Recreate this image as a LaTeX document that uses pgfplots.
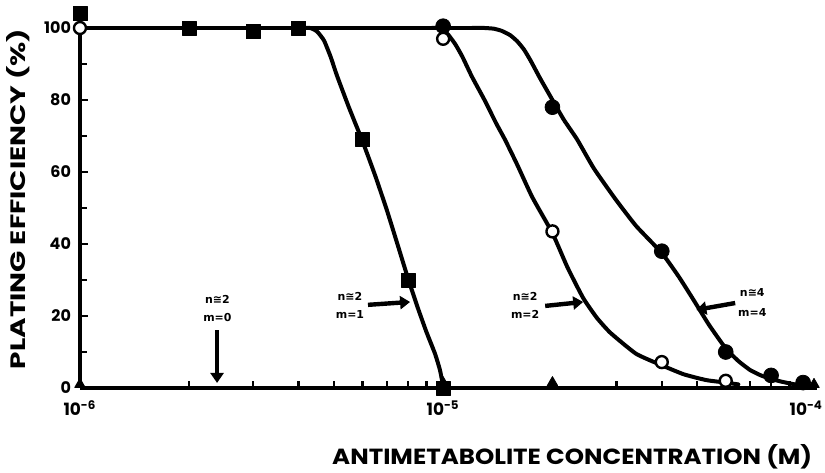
\documentclass[border=0pt]{standalone}
\usepackage{fontspec}
\setmainfont{Poppins}
\newfontfamily\annfont{DejaVu Sans}
\usepackage{pgfplots}
\pgfplotsset{compat=1.18}
\usetikzlibrary{arrows.meta}

\begin{document}
\begin{tikzpicture}
\useasboundingbox (-40bp,-42.5bp) rectangle (372.5bp,194bp);
\begin{axis}[
 at={(0,0)}, anchor=south west,
 scale only axis, width=368.5bp, height=180bp,
 xmode=log, xmin=1e-6, xmax=1.07e-4, ymin=0, ymax=100,
 axis lines*=left, axis line style={line width=2bp, -},
 clip=false,
 xtick={1e-6,1e-5,1e-4},
 xticklabels={10\textsuperscript{-6},10\textsuperscript{-5},10\textsuperscript{-4}},
 minor xtick={2e-6,3e-6,4e-6,5e-6,6e-6,7e-6,8e-6,9e-6,2e-5,3e-5,4e-5,5e-5,6e-5,7e-5,8e-5,9e-5},
 ytick={0,20,40,60,80,100}, yticklabels={0,20,40,60,80,100},
 minor ytick={10,30,50,70,90},
 tick align=inside,
 major tick length=4bp, minor tick length=3.5bp,
 every tick/.style={black, line width=1.2bp},
 xticklabel style={font=\fontsize{8.5}{10}\selectfont\bfseries, yshift=-3bp},
 yticklabel style={font=\fontsize{8}{9}\selectfont\bfseries, xshift=-1bp},
 every axis plot/.append style={line join=round, line cap=round},
]
% curves
\addplot[black, line width=2bp] coordinates {(1e-6,100) (1.3e-5,100)};
\addplot[black, line width=2bp, smooth, tension=0.3] coordinates {
 (1.2e-5,100) (1.3e-5,100) (1.38e-5,99.8) (1.45e-5,99.2) (1.53e-5,98) (1.6e-5,96.3)
 (1.67e-5,94) (1.74e-5,91) (1.85e-5,86) (2e-5,80) (2.15e-5,74.5) (2.34e-5,69)
 (2.6e-5,61) (2.98e-5,52.5) (3.4e-5,45) (4e-5,37.5) (4.45e-5,31) (4.89e-5,24.5)
 (5.4e-5,17.5) (6e-5,11) (6.5e-5,7.5) (7e-5,5) (7.5e-5,3.5) (8e-5,2.5) (8.6e-5,1.7)
 (9.3e-5,1) (1e-4,0.6) (1.05e-4,0.3)};
\addplot[black, line width=2bp, smooth, tension=0.3] coordinates {
 (3.9e-6,100) (4.3e-6,100) (4.5e-6,99) (4.7e-6,96.5) (4.9e-6,92) (5.1e-6,86.8)
 (5.5e-6,78) (6e-6,68.5) (6.5e-6,59) (7e-6,49.4) (7.5e-6,39.7) (8e-6,30.5)
 (8.5e-6,22.5) (9e-6,15.5) (9.5e-6,9.5) (9.8e-6,5) (1e-5,0.5)};
\addplot[black, line width=2bp, smooth, tension=0.3] coordinates {
 (9.3e-6,100) (9.7e-6,100) (1.0e-5,99.3) (1.03e-5,98.3) (1.08e-5,95.5) (1.13e-5,92)
 (1.2e-5,86.5) (1.3e-5,80) (1.4e-5,73.5) (1.48e-5,69) (1.6e-5,62) (1.76e-5,53)
 (2e-5,43) (2.2e-5,33.5) (2.43e-5,25) (2.65e-5,19.5) (2.89e-5,15.3) (3.4e-5,9.5)
 (4e-5,6.3) (4.6e-5,3.8) (5.3e-5,2.2) (6e-5,1.5) (6.5e-5,1)};
% markers
\addplot[only marks, mark=square*, mark size=3.5bp, black] coordinates {
 (1e-6,104) (2e-6,100) (3e-6,99) (4e-6,100) (6e-6,69) (8e-6,30) (1e-5,0)};
\addplot[only marks, mark=triangle*, mark size=3bp, black] coordinates {
 (1e-6,1) (1e-5,1.5) (2e-5,1.5) (1.05e-4,1)};
\addplot[only marks, mark=*, mark size=3.7bp, black] coordinates {
 (1e-5,100.5) (2e-5,78) (4e-5,38) (6e-5,10) (8e-5,3.5) (9.8e-5,1.5)};
\addplot[only marks, mark=*, mark size=3bp, black, fill=white, line width=1.2bp] coordinates {
 (1e-6,100) (1e-5,97) (2e-5,43.5) (4e-5,7.2) (6e-5,2)};
% annotations
\tikzset{ann/.style={font=\annfont\fontsize{5.5}{6}\selectfont\bfseries, inner sep=0pt},
 arr/.style={line width=2.2bp, -{Triangle[width=6.5bp,length=5bp]}}}
\node[ann] at (axis cs:2.39e-6,24.7) {n≅2};
\node[ann] at (axis cs:2.39e-6,19.7) {m=0};
\draw[arr] (axis cs:2.385e-6,16.1) -- (axis cs:2.385e-6,1.4);
\node[ann] at (axis cs:5.54e-6,25.3) {n≅2};
\node[ann] at (axis cs:5.54e-6,20.3) {m=1};
\draw[arr] (axis cs:6.21e-6,23.1) -- (axis cs:8.11e-6,23.9);
\node[ann] at (axis cs:1.682e-5,25.3) {n≅2};
\node[ann] at (axis cs:1.682e-5,20.3) {m=2};
\draw[arr] (axis cs:1.91e-5,22.8) -- (axis cs:2.43e-5,23.9);
\node[ann] at (axis cs:7.1e-5,26.4) {n≅4};
\node[ann] at (axis cs:7.1e-5,21.1) {m=4};
\draw[arr] (axis cs:6.37e-5,23.6) -- (axis cs:4.98e-5,21.7);
% axis titles
\node[rotate=90, inner sep=0pt] at (axis cs:6.75e-7,52.5)
 {\resizebox{170bp}{9.5bp}{\fontsize{10.5}{12}\selectfont\bfseries PLATING EFFICIENCY (\%)}};
\node[inner sep=0pt] at (axis cs:2.267e-5,-19.0)
 {\resizebox{240bp}{10bp}{\fontsize{14}{16}\selectfont\bfseries ANTIMETABOLITE CONCENTRATION (M)}};
\end{axis}
\end{tikzpicture}
\end{document}
